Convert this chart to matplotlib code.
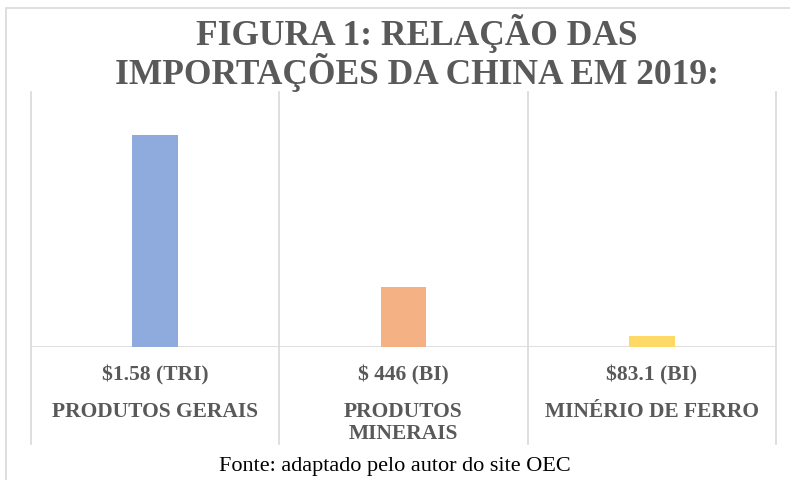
import matplotlib
matplotlib.use("Agg")
import matplotlib.pyplot as plt
from matplotlib.patches import Rectangle

# ---- data ----
categories = ["PRODUTOS GERAIS", "PRODUTOS\nMINERAIS", "MINÉRIO DE FERRO"]
values_bi = [1580, 446, 83.1]          # in billions of US$
value_labels = ["$1.58 (TRI)", "$ 446 (BI)", "$83.1 (BI)"]
bar_colors = ["#8FAADC", "#F4B183", "#FFD966"]
title_text = "FIGURA 1: RELAÇÃO DAS\nIMPORTAÇÕES DA CHINA EM 2019:"
source_text = "Fonte: adaptado pelo autor do site OEC"

W, H = 790, 481
fig = plt.figure(figsize=(W / 100, H / 100), dpi=100)
fig.patch.set_facecolor("white")

def fx(px):
    return px / W

def fy(py):
    return 1 - py / H

# outer chart frame (partially cropped)
frame = Rectangle((fx(6), fy(560)), fx(900), fy(9) - fy(560), transform=fig.transFigure,
                  fill=False, edgecolor="#D9D9D9", linewidth=1.2)
fig.patches.append(frame)

# plot area
left, right, top, bottom = 31, 776, 93, 348
ax = fig.add_axes([fx(left), fy(bottom), fx(right - left), (bottom - top) / H])
x = list(range(len(categories)))
ax.bar(x, values_bi, width=0.185, color=bar_colors, zorder=3)
ax.set_xlim(-0.5, len(categories) - 0.5)
ax.set_ylim(0, 1900)
for s in ax.spines.values():
    s.set_visible(False)
ax.set_xticks([])
ax.set_yticks([])

ext = (445 - bottom) / (bottom - top)
for b in [i - 0.5 for i in range(len(categories) + 1)]:
    ax.axvline(b, ymin=-ext, ymax=1, color="#D9D9D9", linewidth=1.2, clip_on=False, zorder=1)
ax.axhline(0, color="#D9D9D9", linewidth=1.2, zorder=2)

label_color = "#595959"
tr = ax.get_xaxis_transform()
y_val = -(375 - bottom) / (bottom - top)
y_cat = -(402 - bottom) / (bottom - top)
for i, (vl, cat) in enumerate(zip(value_labels, categories)):
    ax.text(i, y_val, vl, transform=tr, ha="center", va="center",
            fontfamily="Liberation Serif", fontweight="bold", fontsize=15.5,
            color=label_color)
    ax.text(i, y_cat, cat, transform=tr, ha="center", va="top",
            fontfamily="Liberation Serif", fontweight="bold", fontsize=15.5,
            color=label_color, linespacing=1.12, multialignment="center")

# title
fig.text(fx(417), fy(53), title_text, ha="center", va="center",
         fontfamily="Liberation Serif", fontweight="bold", fontsize=25.5,
         color=label_color, linespacing=0.97)

# source
fig.text(fx(395), fy(466), source_text, ha="center", va="center",
         fontfamily="Liberation Serif", fontsize=16, color="black")

fig.savefig("out.png", dpi=100, facecolor="white")
